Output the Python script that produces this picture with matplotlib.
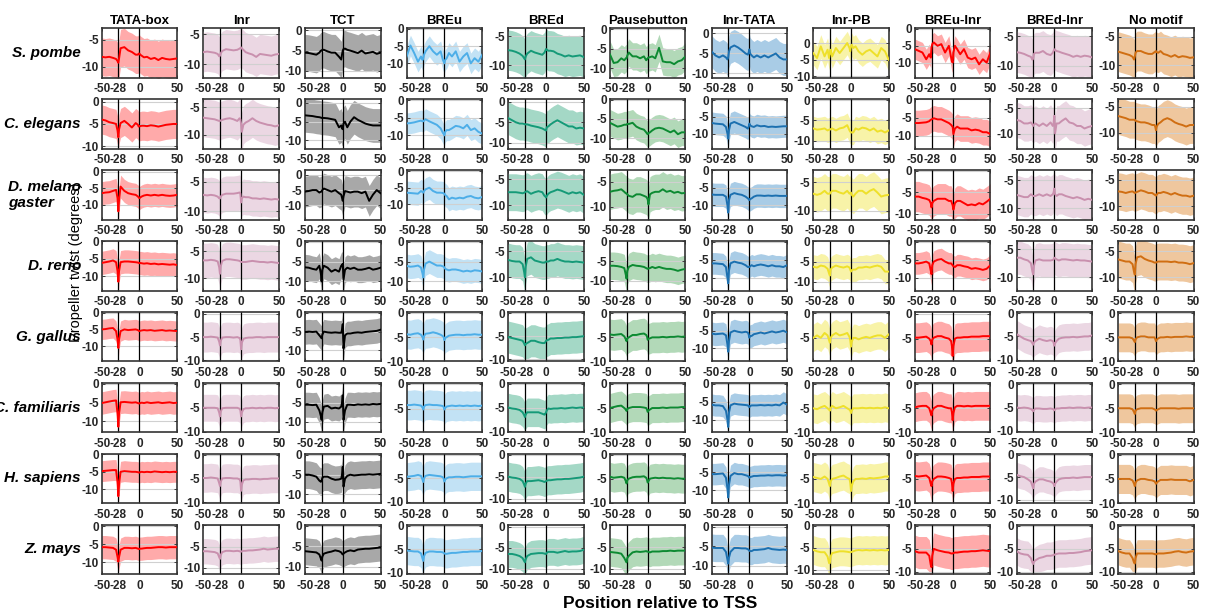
import numpy as np
import matplotlib
matplotlib.use("Agg")
import matplotlib.pyplot as plt
from matplotlib.ticker import MultipleLocator, FormatStrFormatter

plt.rcParams['font.family'] = ['Liberation Sans', 'DejaVu Sans']
plt.rcParams['axes.unicode_minus'] = False

# ---------------- data ----------------
positions = [-50, -45, -40, -35, -31, -29, -28, -27, -25, -20, -15, -10, -5, -2, -1,
             0, 1, 3, 6, 10, 15, 20, 25, 30, 35, 40, 45, 50]
motifs = ['TATA-box', 'Inr', 'TCT', 'BREu', 'BREd', 'Pausebutton', 'Inr-TATA',
          'Inr-PB', 'BREu-Inr', 'BREd-Inr', 'No motif']
species = ['S. pombe', 'C. elegans', 'D. melano\ngaster', 'D. rerio', 'G. gallus',
           'C. familiaris', 'H. sapiens', 'Z. mays']
x_ticks = [-50, -28, 0, 50]

tata_mean = [
    [-8.2,-8.3,-8.2,-8.4,-8.6,-9.0,-9.3,-8.5,-6.6,-6.4, -7.0,-7.3,-7.8,-7.8,-7.6,-7.6,-7.8,-8.0,-8.3,-8.2, -8.6,-8.4,-8.8,-8.4,-8.6,-8.7,-8.6,-8.5],
    [-4.0,-4.2,-4.6,-4.8,-5.0,-6.5,-8.0,-6.2,-4.8,-4.3, -5.0,-5.8,-4.8,-5.2,-5.6,-5.5,-5.5,-5.4,-5.4,-5.5, -5.3,-5.4,-5.6,-5.4,-5.2,-5.1,-5.0,-5.0],
    [-6.5,-6.3,-6.2,-5.8,-5.5,-8.0,-12.0,-8.5,-4.5,-5.8, -6.5,-6.8,-7.0,-7.5,-7.8,-8.0,-7.8,-7.5,-7.2,-7.0, -7.2,-7.0,-7.2,-7.0,-7.2,-7.3,-7.2,-7.0],
    [-6.2,-6.0,-5.8,-5.5,-6.0,-8.5,-11.5,-8.5,-6.0,-5.8, -5.8,-5.9,-6.0,-6.1,-6.2,-6.3,-6.2,-6.3,-6.4,-6.3, -6.5,-6.4,-6.6,-6.5,-6.6,-6.7,-6.6,-6.8],
    [-5.0,-4.9,-4.7,-4.6,-5.5,-8.0,-10.5,-8.0,-5.5,-5.0, -5.2,-5.1,-5.0,-5.2,-5.4,-5.5,-5.4,-5.3,-5.2,-5.3, -5.2,-5.4,-5.3,-5.2,-5.4,-5.3,-5.4,-5.5],
    [-5.2,-5.0,-4.8,-4.6,-4.5,-8.0,-11.5,-8.0,-5.0,-4.9, -5.0,-5.1,-5.0,-5.2,-5.3,-5.3,-5.2,-5.1,-5.2,-5.0, -5.2,-5.1,-5.0,-5.2,-5.1,-5.0,-5.2,-5.1],
    [-4.8,-4.7,-4.6,-4.5,-4.5,-8.0,-12.0,-8.5,-5.0,-4.8, -4.9,-5.0,-5.0,-5.1,-5.2,-5.2,-5.1,-5.0,-5.1,-5.0, -5.1,-4.9,-5.0,-5.1,-5.0,-5.1,-5.0,-5.0],
    [-5.8,-5.8,-5.9,-6.0,-6.5,-8.5,-9.8,-8.5,-6.5,-6.0, -6.0,-6.1,-6.0,-6.2,-6.3,-6.3,-6.2,-6.2,-6.1,-6.0, -6.0,-5.9,-5.8,-5.8,-5.9,-5.8,-5.8,-5.8],
]
tata_sd = [3.5, 3.3, 3.5, 3.3, 3.0, 3.0, 3.0, 3.2]
tata_ylim = [(-12.1, -2.9), (-10.6, 0.6), (-14.5, 0.5), (-14, 0), (-14.5, 0.2), (-13, 0.2), (-14, 0.2), (-13.2, 0.4)]

inr_mean = [
    [-8.0,-7.9,-8.0,-8.1,-8.3,-8.7,-8.6,-8.2,-7.8,-7.5, -7.6,-7.7,-7.6,-7.4,-7.3,-7.2,-7.4,-7.6,-8.0,-8.2, -8.4,-8.8,-8.3,-8.4,-8.5,-8.6,-8.4,-8.3],
    [-6.9,-7.0,-7.1,-7.2,-7.4,-7.5,-7.5,-7.4,-7.3,-7.1, -7.0,-7.2,-7.5,-7.0,-7.2,-8.0,-9.5,-8.2,-7.8,-7.5, -7.0,-7.5,-7.8,-8.0,-8.2,-8.3,-8.5,-8.3],
    [-7.2,-7.3,-7.2,-7.3,-7.5,-7.8,-7.8,-7.5,-7.2,-7.0, -7.0,-7.0,-6.9,-6.8,-7.0,-8.5,-7.8,-7.5,-7.6,-7.6, -7.8,-7.8,-7.9,-7.8,-7.9,-8.0,-7.9,-8.0],
    [-6.7,-6.7,-6.6,-6.7,-6.9,-8.0,-9.2,-7.8,-6.8,-6.5, -6.5,-6.6,-6.7,-6.8,-6.9,-7.0,-7.0,-7.0,-7.0,-6.9, -6.8,-6.9,-7.0,-7.0,-7.1,-7.0,-7.1,-7.2],
    [-5.0,-5.0,-4.9,-5.0,-5.1,-6.0,-6.8,-5.8,-5.1,-5.0, -5.0,-5.1,-5.0,-5.2,-5.6,-7.6,-6.2,-5.4,-5.2,-5.1, -5.1,-5.0,-5.0,-5.1,-5.0,-5.0,-5.0,-5.0],
    [-5.0,-5.0,-5.0,-5.0,-5.1,-6.0,-6.8,-5.8,-5.1,-5.0, -5.0,-5.0,-5.0,-5.2,-5.5,-6.8,-6.0,-5.3,-5.1,-5.1, -5.0,-5.1,-5.0,-5.1,-5.0,-5.0,-5.1,-5.0],
    [-4.9,-4.9,-4.8,-4.9,-5.0,-6.0,-6.6,-5.7,-5.0,-4.9, -4.9,-5.0,-5.0,-5.2,-5.6,-7.6,-6.3,-5.4,-5.2,-5.2, -5.1,-5.1,-5.2,-5.1,-5.1,-5.0,-5.0,-5.0],
    [-6.1,-6.1,-6.2,-6.3,-6.6,-7.5,-7.9,-7.0,-6.3,-6.0, -6.0,-6.1,-6.0,-6.1,-6.2,-6.2,-6.1,-6.0,-6.0,-5.9, -5.9,-5.8,-5.7,-5.5,-5.7,-5.6,-5.5,-5.5],
]
inr_sd = [3.3, 3.5, 3.0, 3.2, 3.2, 2.8, 3.0, 3.0]
inr_ylim = [(-12.3, -4.0), (-12.6, -3.5), (-11.4, -3.0), (-12.3, -3.1), (-10.2, 0.4), (-10.1, 0.2), (-10.2, 0.2), (-11.5, 0.2)]

tct_mean = [
    [-5.5,-5.6,-5.8,-6.0,-5.5,-5.0,-5.0,-4.8,-4.8,-5.2, -5.5,-5.5,-6.5,-7.2,-6.0,-5.0,-4.6,-4.5,-4.8,-5.0, -5.3,-5.6,-5.0,-5.7,-5.5,-5.3,-5.8,-5.5],
    [-3.3,-3.4,-3.5,-3.7,-3.8,-3.9,-4.0,-4.0,-4.0,-4.1, -4.3,-4.5,-6.5,-6.0,-6.8,-7.0,-5.5,-5.0,-6.5,-5.0, -3.8,-4.5,-5.0,-5.5,-5.8,-6.0,-6.0,-6.0],
    [-5.5,-5.3,-5.0,-5.0,-5.8,-5.5,-5.5,-5.0,-4.5,-5.0, -5.5,-5.0,-6.0,-6.5,-7.5,-8.5,-7.0,-5.3,-5.5,-5.8, -5.5,-5.5,-6.0,-5.5,-8.5,-6.5,-5.0,-6.0],
    [-6.4,-6.5,-6.8,-7.0,-6.0,-8.0,-10.0,-7.0,-6.0,-6.5, -7.5,-7.0,-7.5,-6.0,-5.8,-5.5,-9.5,-7.0,-6.5,-6.8, -6.5,-7.0,-7.0,-6.8,-6.5,-7.0,-6.8,-6.5],
    [-5.1,-5.0,-5.1,-5.0,-6.0,-6.5,-6.8,-5.8,-5.0,-5.2, -5.3,-5.2,-5.3,-5.3,-4.5,-3.0,-9.5,-6.0,-5.5,-5.5, -5.3,-5.2,-5.3,-5.1,-5.0,-4.9,-4.8,-4.5],
    [-5.5,-5.5,-5.6,-5.5,-7.0,-8.5,-9.5,-7.5,-6.0,-5.8, -6.5,-6.3,-6.5,-6.0,-5.0,-3.0,-9.5,-7.0,-5.5,-5.5, -5.6,-5.4,-5.5,-5.4,-5.5,-5.3,-5.4,-5.3],
    [-5.0,-5.0,-5.2,-5.5,-6.5,-6.8,-6.5,-5.8,-5.5,-5.5, -6.0,-6.3,-6.2,-6.0,-5.0,-3.0,-8.0,-6.0,-5.3,-5.0, -5.2,-5.1,-5.0,-5.0,-4.9,-5.0,-4.9,-4.8],
    [-6.2,-6.3,-6.4,-6.5,-7.0,-8.0,-8.5,-7.5,-6.8,-6.5, -6.3,-6.0,-6.2,-6.5,-6.8,-7.0,-6.8,-6.5,-6.2,-6.0, -6.2,-5.8,-5.7,-5.6,-5.6,-5.5,-5.4,-5.3],
]
tct_sd = [4.5, 4.5, 5.0, 3.3, 3.3, 3.3, 3.5, 3.3]
tct_ylim = [(-11.7, 0.5), (-12.2, 1.0), (-14.6, 1.5), (-12.3, 0.3), (-13, 0.3), (-12.8, 0.3), (-12.2, 0.3), (-11.8, 0.3)]

breu_mean = [
    [-8.0,-4.8,-7.0,-9.5,-8.0,-9.0,-8.5,-7.5,-6.5,-5.0, -6.5,-7.5,-6.5,-9.0,-9.5,-10.0,-9.0,-8.5,-7.0,-8.0, -6.5,-9.5,-8.0,-7.0,-10.0,-8.5,-9.5,-7.5],
    [-6.6,-6.5,-6.3,-6.0,-5.8,-6.0,-6.0,-5.8,-5.4,-6.0, -6.5,-7.0,-8.0,-9.3,-9.6,-10.0,-9.0,-8.5,-8.5,-8.0, -7.3,-7.5,-8.0,-7.0,-8.5,-8.0,-9.0,-9.5],
    [-6.5,-6.6,-6.7,-6.8,-6.0,-6.3,-6.5,-6.0,-5.5,-5.0, -6.0,-6.5,-6.5,-6.6,-6.7,-6.8,-7.2,-7.5,-8.5,-8.0, -8.3,-8.0,-8.2,-7.7,-7.5,-8.0,-8.2,-7.8],
    [-6.1,-6.3,-6.2,-6.0,-6.5,-8.0,-9.0,-7.0,-5.5,-5.0, -5.5,-6.0,-6.0,-6.2,-6.3,-6.5,-6.8,-7.0,-7.2,-7.0, -7.0,-7.2,-7.5,-7.3,-7.5,-7.2,-7.3,-7.5],
    [-4.4,-4.5,-4.3,-4.2,-4.5,-5.0,-5.5,-4.8,-4.3,-4.2, -4.0,-4.2,-4.5,-4.8,-5.0,-5.6,-5.2,-5.0,-4.7,-4.6, -4.5,-4.5,-4.6,-4.5,-4.5,-4.4,-4.5,-4.5],
    [-4.3,-4.3,-4.2,-4.3,-4.4,-4.8,-5.2,-4.6,-4.3,-4.2, -4.3,-4.3,-4.4,-4.5,-4.7,-5.2,-4.9,-4.6,-4.5,-4.4, -4.5,-4.4,-4.5,-4.4,-4.5,-4.4,-4.5,-4.4],
    [-4.7,-4.6,-4.5,-4.3,-4.5,-5.3,-5.8,-5.0,-4.5,-4.3, -4.4,-4.5,-4.6,-4.8,-5.1,-5.7,-5.3,-5.0,-4.8,-4.8, -4.7,-4.7,-4.8,-4.7,-4.6,-4.6,-4.6,-4.6],
    [-5.3,-5.4,-5.5,-5.5,-5.9,-7.0,-7.5,-6.5,-5.8,-5.5, -5.5,-5.6,-5.6,-5.7,-5.8,-5.9,-6.0,-6.0,-5.9,-5.8, -5.8,-5.7,-5.6,-5.6,-5.5,-5.5,-5.5,-5.4],
]
breu_sd = [3.0, 3.0, 3.5, 3.0, 3.0, 3.0, 3.0, 3.0]
breu_ylim = [(-14.2, 0.2), (-13.8, 0.3), (-14.6, 0.3), (-12.3, 0.2), (-10, 0.2), (-9.8, 0.2), (-10.3, 0.2), (-10.3, 0.2)]

bred_mean = [
    [-7.4,-7.5,-7.7,-8.0,-8.4,-8.8,-9.0,-8.5,-8.0,-7.5, -7.8,-8.0,-8.2,-7.8,-7.5,-7.2,-7.3,-7.5,-7.5,-7.6, -8.0,-8.2,-8.5,-8.3,-8.5,-8.4,-8.3,-8.6],
    [-4.0,-4.5,-5.0,-5.3,-5.3,-5.4,-5.5,-5.5,-5.5,-5.8, -6.0,-6.2,-6.5,-6.8,-6.9,-7.0,-6.2,-6.0,-5.5,-5.0, -4.5,-5.0,-5.5,-6.0,-6.0,-6.5,-6.3,-6.5],
    [-7.5,-7.5,-7.5,-7.6,-7.7,-7.6,-7.5,-7.4,-7.3,-7.8, -7.5,-7.3,-7.5,-8.2,-8.3,-8.5,-8.2,-7.8,-7.5,-7.3, -7.0,-7.2,-7.5,-7.8,-7.5,-7.7,-7.5,-8.0],
    [-6.7,-6.9,-7.0,-7.0,-7.5,-9.0,-10.0,-8.0,-6.5,-6.2, -6.8,-7.0,-7.2,-7.2,-7.1,-7.0,-7.0,-7.0,-6.8,-6.8, -6.5,-6.8,-7.0,-7.0,-7.1,-7.0,-7.1,-7.2],
    [-5.2,-5.4,-5.6,-5.8,-6.0,-6.6,-7.0,-6.7,-6.5,-6.0, -6.0,-6.3,-6.5,-6.5,-6.3,-6.0,-5.9,-5.8,-5.5,-5.5, -5.4,-5.4,-5.3,-5.3,-5.2,-5.2,-5.1,-5.0],
    [-5.0,-5.2,-5.3,-5.5,-6.0,-6.6,-7.0,-6.5,-6.0,-6.0, -6.0,-6.0,-6.3,-6.5,-6.3,-6.0,-5.6,-5.2,-5.3,-5.2, -5.2,-5.1,-5.2,-5.1,-5.0,-5.1,-5.0,-5.0],
    [-5.0,-5.2,-5.3,-5.5,-6.0,-6.8,-7.3,-6.6,-6.0,-6.0, -5.9,-5.8,-6.0,-6.2,-6.1,-6.0,-5.9,-5.8,-5.8,-5.7, -5.6,-5.6,-5.5,-5.5,-5.4,-5.3,-5.2,-5.0],
    [-6.5,-6.5,-6.7,-7.0,-7.5,-8.2,-8.5,-7.8,-7.0,-6.5, -6.4,-6.3,-6.3,-6.4,-6.5,-6.5,-6.2,-6.0,-6.0,-6.0, -6.2,-6.0,-5.8,-6.0,-5.9,-5.9,-5.8,-5.5],
]
bred_sd = [3.5, 4.0, 3.5, 3.2, 3.5, 3.0, 3.3, 3.2]
bred_ylim = [(-12.2, -3.6), (-11.4, 0.6), (-12.7, -3.3), (-12.5, -3.1), (-10.5, 0.3), (-10.2, 0.2), (-11, 0.2), (-11.3, 0.5)]

pause_mean = [
    [-6.5,-8.7,-8.5,-7.5,-8.0,-7.5,-7.5,-6.8,-6.0,-7.0, -7.0,-7.5,-7.0,-8.0,-7.8,-7.5,-7.3,-7.2,-7.0,-7.5, -4.8,-8.3,-8.5,-8.5,-9.0,-8.3,-8.0,-7.0],
    [-6.0,-6.5,-7.0,-6.8,-6.5,-6.5,-6.5,-6.3,-6.3,-6.0, -7.0,-7.5,-7.8,-8.5,-8.8,-9.0,-8.7,-8.5,-8.0,-7.5, -7.3,-7.5,-8.0,-8.5,-8.0,-9.0,-8.5,-8.5],
    [-7.0,-6.8,-6.7,-6.5,-7.0,-7.3,-7.3,-7.5,-7.8,-8.0, -7.5,-7.5,-7.8,-8.0,-8.2,-8.5,-9.5,-7.5,-7.2,-7.0, -7.0,-6.5,-7.0,-6.8,-7.2,-7.0,-7.3,-7.2],
    [-6.2,-6.2,-6.3,-6.5,-6.8,-8.5,-9.5,-7.5,-6.5,-6.0, -6.2,-6.3,-6.5,-6.8,-6.9,-7.0,-6.9,-6.8,-6.5,-6.8, -6.5,-6.8,-7.0,-7.0,-7.2,-7.5,-7.2,-7.0],
    [-4.4,-4.5,-4.4,-4.3,-4.8,-5.4,-5.8,-5.2,-5.0,-4.5, -4.5,-4.3,-4.2,-4.5,-4.8,-5.5,-5.3,-5.2,-5.0,-5.0, -5.0,-4.9,-5.0,-4.9,-4.9,-4.8,-4.9,-4.8],
    [-5.0,-4.8,-4.6,-4.5,-5.0,-5.3,-5.6,-5.2,-5.0,-4.8, -4.8,-4.8,-4.9,-5.0,-5.3,-5.8,-5.5,-5.3,-5.0,-5.0, -5.0,-4.9,-5.0,-4.9,-4.9,-4.9,-4.8,-4.8],
    [-4.6,-4.8,-4.7,-4.6,-4.8,-5.5,-6.0,-5.3,-5.0,-4.7, -4.6,-4.6,-4.5,-4.8,-5.2,-5.8,-5.5,-5.0,-4.9,-4.8, -4.9,-4.8,-4.9,-4.9,-5.0,-4.9,-5.0,-5.0],
    [-6.1,-6.2,-6.3,-6.5,-7.5,-8.2,-8.5,-7.5,-7.0,-6.2, -6.0,-6.1,-6.0,-5.9,-6.0,-6.0,-6.1,-6.2,-6.0,-6.0, -6.0,-5.9,-5.9,-5.8,-5.9,-5.8,-5.8,-5.8],
]
pause_sd = [3.5, 3.5, 3.5, 3.5, 3.2, 3.0, 3.0, 3.3]
pause_ylim = [(-12.5, 0.2), (-12.8, 0.2), (-12.5, -2.7), (-12.5, 0.1), (-10, 0.3), (-10, 0.2), (-10.1, 0.2), (-11.2, 0.2)]

inrtata_mean = [
    [-4.5,-5.5,-6.0,-5.5,-6.0,-6.5,-6.0,-4.5,-3.5,-3.0, -3.5,-4.2,-5.0,-5.3,-4.8,-4.0,-5.0,-5.5,-6.0,-5.5, -6.0,-5.5,-6.0,-5.5,-5.0,-6.0,-6.5,-6.5],
    [-6.8,-7.0,-7.1,-7.2,-8.0,-10.0,-11.5,-9.0,-7.0,-6.5, -7.0,-7.5,-8.0,-8.5,-8.0,-7.0,-7.5,-7.8,-8.0,-7.5, -7.8,-7.7,-8.0,-7.9,-8.0,-7.9,-7.8,-7.8],
    [-6.9,-7.0,-7.0,-7.0,-7.5,-10.0,-12.0,-8.5,-7.0,-6.5, -6.8,-7.0,-7.5,-8.0,-8.2,-8.5,-8.2,-8.0,-7.5,-7.2, -7.2,-7.3,-7.2,-7.3,-7.2,-7.3,-7.3,-7.3],
    [-6.0,-6.0,-6.1,-6.2,-7.0,-10.0,-11.5,-8.0,-6.0,-5.5, -5.8,-6.0,-6.5,-7.0,-7.0,-7.0,-6.8,-6.5,-6.8,-6.5, -6.3,-6.5,-6.8,-6.5,-6.8,-6.8,-7.0,-6.5],
    [-5.8,-6.0,-5.9,-5.8,-6.3,-9.0,-11.0,-8.0,-5.5,-5.0, -5.3,-5.5,-5.3,-5.5,-6.0,-7.0,-6.5,-6.5,-6.0,-5.8, -5.5,-5.8,-5.5,-5.2,-5.5,-5.3,-5.0,-5.5],
    [-5.8,-6.0,-6.0,-6.2,-7.5,-10.0,-12.0,-8.0,-6.0,-5.5, -5.7,-5.8,-5.9,-6.0,-6.2,-6.5,-6.2,-6.0,-6.0,-6.0, -5.9,-6.0,-5.9,-6.0,-5.8,-6.0,-5.2,-5.8],
    [-5.5,-5.5,-5.4,-5.3,-6.5,-9.5,-12.0,-8.5,-6.0,-5.2, -5.5,-5.5,-5.8,-6.0,-6.2,-6.5,-6.3,-6.2,-6.0,-6.0, -5.9,-5.9,-5.8,-5.9,-5.8,-5.8,-5.9,-5.8],
    [-5.4,-5.5,-5.5,-5.5,-6.5,-8.5,-9.5,-8.0,-6.5,-5.5, -5.5,-5.6,-5.6,-5.8,-6.0,-6.2,-6.3,-6.3,-6.0,-6.0, -5.9,-5.8,-5.5,-5.8,-5.9,-6.0,-5.9,-6.0],
]
inrtata_sd = [4.0, 3.3, 3.3, 3.0, 3.3, 3.0, 3.0, 3.5]
inrtata_ylim = [(-11.1, 1.3), (-14.5, 0.3), (-14, 0), (-13.5, 0.2), (-13.8, 0.4), (-13.5, 0.3), (-13.6, 0.2), (-12.2, 0.5)]

inrpb_mean = [
    [-3.0,-4.5,-1.0,-4.0,-2.0,-4.5,-3.0,-2.0,-4.0,-1.5, -3.0,-1.5,0.0,-1.5,-2.5,-1.0,-0.5,-1.5,-1.0,-2.5, -3.5,-2.5,-2.0,-3.0,-4.0,-1.5,-2.5,-5.0],
    [-7.0,-7.3,-7.2,-7.0,-7.5,-7.3,-7.3,-7.2,-7.0,-7.5, -7.0,-6.8,-6.2,-7.5,-7.8,-8.0,-8.0,-8.0,-7.0,-7.3, -6.8,-7.0,-7.5,-7.0,-7.8,-7.5,-8.0,-7.5],
    [-7.0,-7.2,-7.0,-6.5,-7.0,-7.0,-7.0,-6.8,-6.5,-6.5, -6.8,-7.0,-6.5,-7.0,-6.9,-6.8,-7.2,-7.5,-7.0,-6.5, -6.5,-7.0,-6.5,-6.2,-6.8,-7.5,-7.3,-7.2],
    [-6.3,-6.5,-6.0,-6.2,-6.8,-8.0,-8.5,-7.0,-6.5,-6.0, -6.3,-6.5,-6.2,-6.5,-7.0,-7.5,-7.2,-7.0,-7.0,-6.5, -6.5,-6.3,-6.5,-6.2,-6.0,-6.3,-7.5,-7.5],
    [-5.0,-4.5,-5.0,-4.0,-4.5,-5.5,-6.0,-5.0,-4.5,-4.0, -4.5,-4.3,-4.0,-4.8,-5.5,-6.8,-5.8,-5.0,-5.0,-5.3, -5.0,-4.8,-5.0,-4.7,-4.5,-4.5,-5.0,-4.3],
    [-5.0,-5.2,-4.8,-4.5,-5.0,-5.3,-5.5,-5.0,-4.5,-5.0, -4.8,-4.5,-5.0,-5.3,-5.5,-6.0,-5.5,-5.0,-5.0,-5.0, -4.9,-5.0,-4.9,-5.0,-4.9,-5.0,-4.8,-5.0],
    [-4.6,-4.8,-5.0,-4.5,-5.0,-6.0,-6.5,-5.5,-5.0,-4.8, -4.5,-4.3,-4.8,-5.0,-5.8,-7.5,-6.5,-5.5,-5.0,-5.0, -4.9,-5.0,-4.8,-4.9,-4.8,-4.7,-4.5,-4.5],
    [-5.5,-5.8,-6.0,-6.0,-7.0,-8.5,-8.5,-7.0,-6.2,-6.0, -5.8,-5.8,-5.9,-6.0,-6.0,-6.0,-5.9,-5.8,-5.6,-5.5, -5.6,-5.5,-5.6,-5.5,-5.6,-5.5,-5.6,-5.5],
]
inrpb_sd = [3.5, 3.0, 3.0, 3.0, 2.8, 3.0, 3.0, 3.3]
inrpb_ylim = [(-10.4, 4.4), (-12, 0.2), (-11.5, -2.9), (-12.2, 0.1), (-9.8, 0.3), (-10, 0.3), (-10, 0.2), (-11, 0.3)]

breuinr_mean = [
    [-6.0,-6.5,-7.0,-9.0,-7.5,-8.5,-5.5,-4.5,-4.0,-5.0, -4.5,-7.0,-5.0,-8.5,-9.5,-10.0,-7.0,-5.0,-6.0,-7.5, -6.0,-8.5,-9.0,-8.5,-10.5,-9.0,-10.0,-7.0],
    [-6.5,-6.5,-6.4,-6.3,-6.0,-5.6,-5.5,-5.4,-5.2,-5.5, -5.5,-6.0,-6.5,-7.0,-7.3,-7.5,-9.5,-8.0,-7.5,-8.0, -8.0,-8.0,-8.5,-8.3,-8.5,-9.0,-9.0,-9.5],
    [-6.0,-6.0,-6.3,-6.5,-6.8,-7.5,-8.5,-7.5,-7.0,-6.5, -6.5,-6.5,-7.0,-7.0,-7.5,-8.0,-9.0,-7.5,-7.0,-7.0, -7.5,-8.0,-7.8,-8.0,-7.5,-7.8,-7.2,-6.5],
    [-6.0,-6.0,-5.8,-5.5,-6.0,-8.0,-9.0,-6.5,-5.5,-5.0, -4.8,-5.5,-6.0,-6.0,-6.3,-6.5,-6.8,-7.0,-6.5,-6.5, -6.8,-7.0,-7.5,-7.3,-7.5,-7.8,-7.5,-6.5],
    [-4.8,-4.8,-4.7,-4.6,-5.0,-5.5,-6.2,-5.2,-4.8,-4.5, -4.5,-4.8,-5.0,-5.5,-6.5,-8.5,-6.5,-5.0,-4.8,-4.8, -4.7,-4.7,-4.6,-4.6,-4.6,-4.5,-4.5,-4.5],
    [-4.8,-4.6,-4.5,-4.5,-5.0,-6.0,-6.5,-5.5,-5.0,-4.5, -4.5,-4.8,-5.0,-5.0,-5.8,-7.5,-6.0,-4.8,-4.5,-4.5, -4.6,-4.5,-4.6,-4.5,-4.5,-4.5,-4.5,-4.5],
    [-4.4,-4.5,-4.4,-4.3,-4.8,-6.0,-6.5,-5.5,-5.0,-4.5, -4.5,-4.6,-4.8,-5.0,-5.8,-7.5,-6.0,-5.0,-4.8,-4.8, -4.7,-4.7,-4.6,-4.6,-4.6,-4.5,-4.5,-4.5],
    [-5.5,-5.8,-5.8,-5.8,-6.5,-8.5,-9.0,-6.5,-5.0,-5.3, -5.5,-5.7,-5.8,-6.0,-6.0,-6.0,-5.9,-5.8,-5.8,-5.7, -5.6,-5.6,-5.5,-5.5,-5.4,-5.3,-5.4,-5.5],
]
breuinr_sd = [3.0, 3.5, 3.5, 3.0, 3.0, 3.0, 3.0, 3.5]
breuinr_ylim = [(-14.5, 0.2), (-13.5, 0), (-11.3, 0.1), (-13.5, 0.2), (-9.6, 0.4), (-10, 0.3), (-10, 0.2), (-10.5, 0.3)]

bredinr_mean = [
    [-7.7,-7.8,-8.0,-8.3,-8.5,-9.0,-8.8,-8.0,-7.8,-7.8, -7.5,-8.0,-8.2,-7.8,-7.5,-7.2,-7.3,-7.5,-7.6,-7.8, -8.0,-8.2,-8.5,-8.3,-8.5,-8.3,-8.4,-8.6],
    [-7.3,-7.5,-8.0,-8.0,-7.8,-8.2,-8.5,-8.2,-8.0,-8.5, -8.0,-8.5,-7.8,-8.5,-8.0,-6.5,-10.0,-8.0,-8.0,-7.5, -7.0,-7.8,-8.0,-8.5,-8.5,-9.0,-8.7,-8.5],
    [-7.6,-7.8,-8.0,-8.0,-7.5,-7.7,-7.8,-7.8,-7.8,-7.5, -7.8,-7.5,-7.8,-7.5,-7.2,-6.5,-7.5,-7.8,-7.5,-7.5, -7.8,-8.0,-8.2,-8.0,-8.2,-8.5,-8.3,-8.5],
    [-6.5,-6.5,-6.8,-7.0,-7.5,-9.0,-9.5,-8.0,-7.0,-6.8, -7.0,-7.0,-7.0,-6.9,-6.8,-6.5,-6.6,-6.8,-7.0,-6.8, -6.8,-6.9,-7.0,-6.9,-7.0,-7.0,-7.1,-7.2],
    [-4.5,-5.0,-5.5,-5.8,-6.0,-6.5,-6.8,-6.3,-6.0,-5.5, -5.8,-6.0,-5.8,-6.0,-6.3,-7.0,-6.5,-6.0,-5.5,-5.3, -5.2,-5.2,-5.1,-5.2,-5.1,-5.0,-5.0,-4.8],
    [-5.0,-5.1,-5.0,-5.1,-5.3,-5.6,-5.8,-5.5,-5.2,-5.2, -5.3,-5.3,-5.2,-5.3,-5.4,-5.6,-5.4,-5.2,-5.2,-5.1, -5.1,-5.0,-5.1,-5.0,-5.0,-5.1,-5.0,-5.0],
    [-4.5,-4.8,-5.0,-5.5,-6.0,-7.0,-7.5,-6.5,-6.0,-5.5, -5.5,-5.8,-6.0,-6.3,-6.5,-7.0,-6.5,-6.0,-5.5,-5.3, -5.2,-5.2,-5.1,-5.2,-5.1,-5.0,-5.0,-5.0],
    [-5.5,-6.0,-6.2,-6.3,-7.0,-8.0,-8.3,-7.8,-7.5,-7.0, -6.8,-6.5,-6.5,-6.4,-6.3,-6.3,-6.2,-6.1,-6.0,-6.0, -6.0,-5.9,-5.9,-5.8,-5.7,-5.5,-5.4,-5.3],
]
bredinr_sd = [3.5, 3.5, 3.5, 3.0, 3.0, 2.8, 2.8, 3.0]
bredinr_ylim = [(-12.1, -3.6), (-13, -3.2), (-12, -3.2), (-12.4, -3.5), (-10.4, 0.3), (-10.3, 0.3), (-10.8, 0.2), (-10.5, 0.3)]

nomotif_mean = [
    [-7.6,-7.8,-8.0,-8.2,-8.5,-9.0,-8.5,-7.8,-7.5,-7.5, -7.8,-8.0,-8.0,-7.7,-7.6,-7.5,-7.7,-7.8,-7.5,-8.0, -8.2,-8.5,-8.2,-8.6,-8.4,-8.5,-8.7,-8.6],
    [-6.8,-7.0,-7.2,-7.5,-7.5,-7.5,-7.5,-7.7,-7.8,-8.0, -8.0,-8.2,-8.5,-8.5,-8.8,-9.5,-8.8,-8.3,-8.0,-7.5, -7.2,-7.5,-8.0,-8.3,-8.5,-8.8,-8.5,-8.5],
    [-7.2,-7.3,-7.5,-7.3,-7.2,-7.4,-7.5,-7.4,-7.3,-7.0, -7.2,-7.5,-7.5,-7.8,-7.9,-8.0,-7.8,-7.5,-7.5,-7.3, -7.5,-7.8,-7.5,-7.8,-8.0,-8.0,-8.2,-8.0],
    [-6.6,-6.8,-7.0,-7.0,-7.5,-9.0,-9.5,-7.5,-6.2,-6.0, -6.5,-6.8,-7.0,-7.2,-7.2,-7.2,-7.1,-7.0,-7.0,-7.0, -7.0,-7.1,-7.0,-7.2,-7.2,-7.3,-7.5,-7.3],
    [-5.0,-5.0,-5.0,-5.0,-5.2,-5.7,-6.0,-5.4,-5.0,-4.8, -4.8,-5.0,-5.0,-5.0,-5.3,-5.8,-5.5,-5.2,-5.0,-5.0, -4.9,-5.0,-4.9,-4.9,-4.9,-4.8,-4.9,-4.8],
    [-5.0,-5.0,-5.0,-5.0,-5.2,-5.8,-6.2,-5.5,-5.2,-5.0, -5.0,-5.0,-5.0,-5.2,-5.3,-5.5,-5.4,-5.2,-5.0,-5.0, -5.0,-5.0,-5.0,-5.1,-5.0,-5.0,-5.0,-5.0],
    [-5.0,-5.0,-5.0,-5.0,-5.3,-6.0,-6.5,-5.8,-5.3,-5.0, -5.0,-5.2,-5.3,-5.5,-5.7,-6.0,-5.8,-5.5,-5.2,-5.2, -5.2,-5.1,-5.2,-5.2,-5.2,-5.2,-5.5,-5.2],
    [-5.5,-5.8,-6.0,-6.0,-7.0,-8.0,-8.2,-7.0,-6.0,-6.0, -6.0,-6.0,-6.0,-6.1,-6.2,-6.2,-6.1,-6.0,-6.0,-6.0, -5.9,-5.8,-5.6,-5.5,-5.7,-5.8,-5.6,-5.5],
]
nomotif_sd = [3.5, 3.5, 3.5, 3.5, 3.0, 3.0, 3.0, 3.0]
nomotif_ylim = [(-12.2, -3.5), (-13, -3.6), (-12.5, -3.2), (-12.5, -3.1), (-10, 0.3), (-10, 0.3), (-10, 0.2), (-10.5, 0.3)]

line_colors = ['#FF0000', '#C990AE', '#000000', '#4DAEE8', '#159A78', '#0D8A32',
               '#1C70B0', '#EEE02A', '#FF0000', '#C990AE', '#D06E12']
band_colors = ['#FFAAAA', '#EBD7E3', '#A8A8A8', '#C2E2F5', '#A4D8C6', '#B2D9B8',
               '#A9CCE6', '#F8F3A8', '#FFAAAA', '#EBD7E3', '#EFC79E']

all_means = [tata_mean, inr_mean, tct_mean, breu_mean, bred_mean, pause_mean,
             inrtata_mean, inrpb_mean, breuinr_mean, bredinr_mean, nomotif_mean]
all_sds = [tata_sd, inr_sd, tct_sd, breu_sd, bred_sd, pause_sd,
           inrtata_sd, inrpb_sd, breuinr_sd, bredinr_sd, nomotif_sd]
all_ylims = [tata_ylim, inr_ylim, tct_ylim, breu_ylim, bred_ylim, pause_ylim,
             inrtata_ylim, inrpb_ylim, breuinr_ylim, bredinr_ylim, nomotif_ylim]

# ---------------- figure ----------------
W, H = 1210, 615
fig = plt.figure(figsize=(W / 100, H / 100), dpi=100)

left0, dx, pw = 101.7, 101.65, 75.5
top0, dy, ph = 28.3, 70.9, 49.5

x = np.array(positions)
for j, motif in enumerate(motifs):
    for i, sp in enumerate(species):
        m = np.array(all_means[j][i], dtype=float)
        if len(m) != len(x):
            raise ValueError(f"length mismatch {motif} row {i}: {len(m)}")
        s = all_sds[j][i]
        l = left0 + j * dx
        t = top0 + i * dy
        ax = fig.add_axes([l / W, 1 - (t + ph) / H, pw / W, ph / H])
        ax.fill_between(x, m - s, m + s, color=band_colors[j], lw=0, zorder=1)
        ax.axvline(-28, color='black', lw=0.9, zorder=2)
        ax.axvline(0, color='black', lw=0.9, zorder=2)
        ax.plot(x, m, color=line_colors[j], lw=1.4, zorder=3)
        ax.set_xlim(-50, 50)
        ax.set_ylim(*all_ylims[j][i])
        ax.set_xticks(x_ticks)
        ax.set_xticklabels([str(v) for v in x_ticks])
        ax.yaxis.set_major_locator(MultipleLocator(5))
        ax.yaxis.set_major_formatter(FormatStrFormatter('%d'))
        ax.grid(axis='y', color='#d0d0d0', lw=0.8)
        ax.set_axisbelow('line')
        ax.tick_params(direction='in', length=2, width=0.6, labelsize=8.5,
                       top=True, right=True, pad=2, colors='#262626')
        ax.tick_params(axis='x', pad=4)
        for lab in ax.get_xticklabels() + ax.get_yticklabels():
            lab.set_fontweight('bold')
            lab.set_color('#262626')
        for sp_ in ax.spines.values():
            sp_.set_color('#333333')
            sp_.set_linewidth(1.2)
        if i == 0:
            ax.set_title(motif, fontsize=9.5, fontweight='bold', pad=3)

for i, sp in enumerate(species):
    t = top0 + i * dy
    fig.text(81 / W, 1 - (t + ph / 2) / H, sp, ha='right', va='center',
             fontsize=11, fontweight='bold', style='italic',
             multialignment='left')

fig.text(76 / W, 1 - 262 / H, 'Propeller twist (degrees)', rotation=90,
         ha='center', va='center', fontsize=10.5)
fig.text(660 / W, 1 - 603 / H, 'Position relative to TSS', ha='center',
         va='center', fontsize=12.5, fontweight='bold')

fig.savefig('out.png', dpi=100)
